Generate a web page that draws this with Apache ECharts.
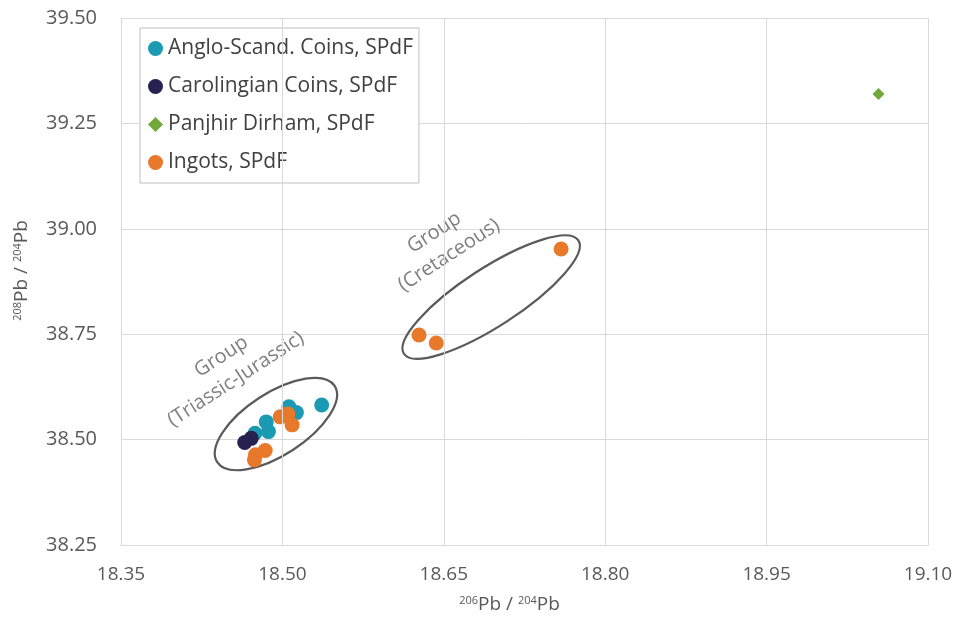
<!DOCTYPE html>
<html>
<head>
<meta charset="utf-8">
<script src="https://cdn.jsdelivr.net/npm/echarts@6/dist/echarts.min.js"></script>
<style>html,body{margin:0;padding:0;background:#fff;}#c{width:960px;height:623px;}</style>
</head>
<body>
<div id="c"></div>
<script>
// ---- data ----
const seriesNames = ['Anglo-Scand. Coins, SPdF', 'Carolingian Coins, SPdF', 'Panjhir Dirham, SPdF', 'Ingots, SPdF'];
const angloScand = [[18.5365,38.582],[18.506,38.578],[18.513,38.564],[18.485,38.542],[18.487,38.519],[18.4745,38.515]];
const carolingian = [[18.465,38.493],[18.471,38.503]];
const panjhir = [[19.054,39.32]];
const ingots = [[18.759,38.952],[18.627,38.748],[18.643,38.729],[18.498,38.554],[18.505,38.561],[18.509,38.535],[18.484,38.474],[18.475,38.464],[18.474,38.452]];
const xTicks = [18.35, 18.50, 18.65, 18.80, 18.95, 19.10];
const yTicks = [38.25, 38.50, 38.75, 39.00, 39.25, 39.50];
// annotation groups (ellipse centre in data units, label anchor in data units)
const groupLabels = ['Group\n(Triassic-Jurassic)', 'Group\n(Cretaceous)'];
const groupCentres = [[18.494, 38.537], [18.694, 38.838]];
const groupLabelAnchors = [[18.450, 38.670], [18.648, 38.964]];

const colors = ['#1b9ab3', '#262151', '#70a83b', '#e8782a'];
const FONT = "'Open Sans', sans-serif";

const chart = echarts.init(document.getElementById('c'), null, {renderer: 'canvas'});
const isMajor = v => { const k = (v - xTicks[0]) / 0.15; return Math.abs(k - Math.round(k)) < 1e-6; };

const option = {
  animation: false,
  backgroundColor: '#fff',
  color: colors,
  grid: {left: 121, right: 32, top: 18, bottom: 78, containLabel: false},
  legend: {
    orient: 'vertical', left: 140, top: 28,
    padding: [10, 6, 10, 8], itemGap: 17, itemWidth: 15, itemHeight: 15,
    borderColor: '#bfbfbf', borderWidth: 1, backgroundColor: '#fff',
    textStyle: {fontFamily: FONT, fontSize: 21, color: '#404040'},
    data: seriesNames
  },
  xAxis: {
    type: 'value', min: xTicks[0], max: xTicks[xTicks.length - 1], interval: 0.05,
    axisLine: {show: true, lineStyle: {color: '#d9d9d9'}},
    axisTick: {show: false},
    splitLine: {show: false},
    axisLabel: {margin: 20, fontFamily: FONT, fontSize: 19, color: '#595959',
      formatter: v => isMajor(v) ? v.toFixed(2) : ''},
    name: '{sup|206}{b|Pb / }{sup|204}{b|Pb}', nameLocation: 'middle', nameGap: 50,
    nameTextStyle: {fontFamily: FONT, color: '#595959', padding: [0, 30, 0, 0],
      rich: {sup: {fontFamily: FONT, fontSize: 11, color: '#595959', padding: [0,0,8,0]},
             b: {fontFamily: FONT, fontSize: 19, color: '#595959'}}}
  },
  yAxis: {
    type: 'value', min: yTicks[0], max: yTicks[yTicks.length - 1], interval: 0.25,
    axisLine: {show: true, lineStyle: {color: '#d9d9d9'}},
    axisTick: {show: false},
    splitLine: {show: true, lineStyle: {color: '#d9d9d9', width: 1}},
    axisLabel: {margin: 24, fontFamily: FONT, fontSize: 20, color: '#595959',
      formatter: v => v.toFixed(2)},
    name: '{sup|208}{b|Pb / }{sup|204}{b|Pb}', nameLocation: 'middle', nameGap: 90, nameRotate: 90,
    nameTextStyle: {fontFamily: FONT, color: '#595959', padding: [0, 0, 0, 22],
      rich: {sup: {fontFamily: FONT, fontSize: 11, color: '#595959', padding: [0,0,8,0]},
             b: {fontFamily: FONT, fontSize: 19, color: '#595959'}}}
  },
  series: [
    {type: 'scatter', name: 'grid', data: [], z: 1, silent: true,
     markLine: {silent: true, symbol: 'none', label: {show: false},
       lineStyle: {color: '#d9d9d9', width: 1, type: 'solid'},
       data: xTicks.map(v => ({xAxis: v}))}},
    {type: 'scatter', name: seriesNames[0], data: angloScand, symbol: 'circle', symbolSize: 15, z: 3,
     itemStyle: {color: colors[0], opacity: 1}},
    {type: 'scatter', name: seriesNames[1], data: carolingian, symbol: 'circle', symbolSize: 15, z: 3,
     itemStyle: {color: colors[1], opacity: 1}},
    {type: 'scatter', name: seriesNames[2], data: panjhir, symbol: 'diamond', symbolSize: 12, z: 3,
     itemStyle: {color: colors[2], opacity: 1}},
    {type: 'scatter', name: seriesNames[3], data: ingots, symbol: 'circle', symbolSize: 15, z: 3,
     itemStyle: {color: colors[3], opacity: 1}}
  ]
};
chart.setOption(option);

// annotation ellipses and labels, positioned through the chart's scales
const ellipseSize = [[70, 31], [104, 29]];
const rot = 33 * Math.PI / 180;
const graphics = [];
groupCentres.forEach((c, i) => {
  const p = chart.convertToPixel({gridIndex: 0}, c);
  graphics.push({type: 'ellipse', x: p[0], y: p[1], rotation: rot, z: 2,
    shape: {cx: 0, cy: 0, rx: ellipseSize[i][0], ry: ellipseSize[i][1]},
    style: {fill: 'none', stroke: '#5a5a5a', lineWidth: 2.2}});
  const q = chart.convertToPixel({gridIndex: 0}, groupLabelAnchors[i]);
  graphics.push({type: 'text', x: q[0], y: q[1], rotation: rot, z: 2,
    style: {text: groupLabels[i], fontFamily: FONT, fontSize: 20, fill: '#7f7f7f',
      align: 'center', verticalAlign: 'middle', lineHeight: 27}});
});
chart.setOption({graphic: graphics});
</script>
</body>
</html>
